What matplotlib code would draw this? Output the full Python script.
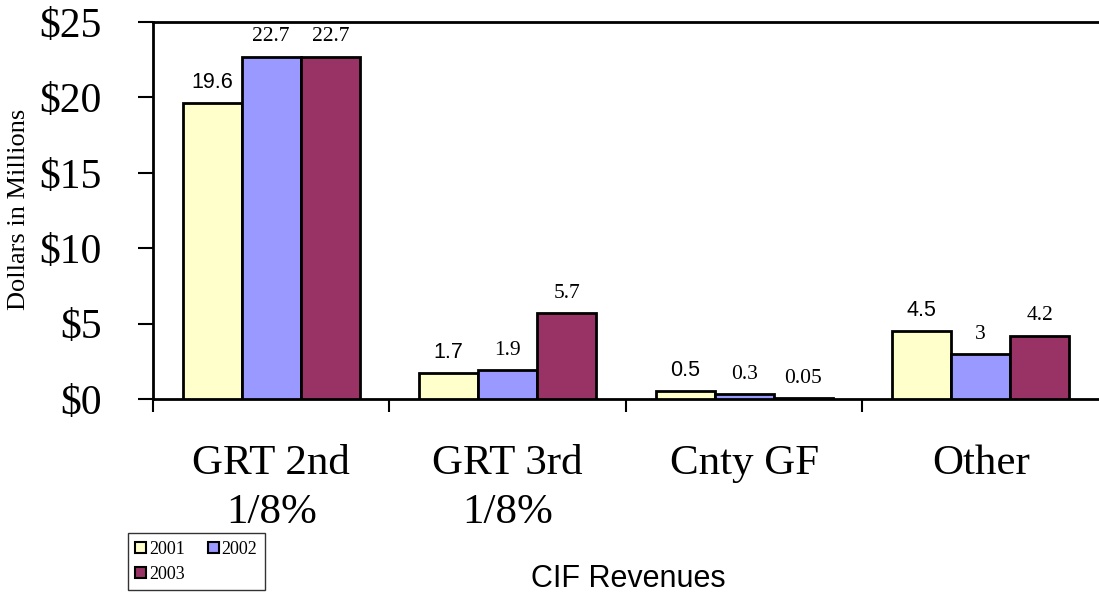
import numpy as np
import matplotlib.pyplot as plt
from matplotlib.patches import Patch

categories = ['GRT 2nd\n1/8%', 'GRT 3rd\n1/8%', 'Cnty GF', 'Other']
years = ['2001', '2002', '2003']
vals_2001 = [19.6, 1.7, 0.5, 4.5]
vals_2002 = [22.7, 1.9, 0.3, 3.0]
vals_2003 = [22.7, 5.7, 0.05, 4.2]
labels_2001 = ['19.6', '1.7', '0.5', '4.5']
labels_2002 = ['22.7', '1.9', '0.3', '3']
labels_2003 = ['22.7', '5.7', '0.05', '4.2']

colors = ['#FFFFCC', '#9999FF', '#993366']
serif = 'Liberation Serif'
sans = 'Liberation Sans'

fig = plt.figure(figsize=(10.99, 5.96), dpi=100)
ax = fig.add_axes([0.1392, 0.3305, 0.8608, 0.6326])

x = np.arange(len(categories)) + 0.5
w = 0.25
series = [(vals_2001, labels_2001, sans), (vals_2002, labels_2002, serif),
          (vals_2003, labels_2003, serif)]
for i, (vals, labs, fam) in enumerate(series):
    xs = x + (i - 1) * w
    ax.bar(xs, vals, width=w, color=colors[i], edgecolor='black', linewidth=2, zorder=3)
    for xx, v, t in zip(xs, vals, labs):
        ax.annotate(t, (xx, v), xytext=(0, 11), textcoords='offset points',
                    ha='center', va='baseline', fontsize=15.5, family=fam)

ax.set_xlim(0, 4)
ax.set_ylim(0, 25)
ax.set_yticks([0, 5, 10, 15, 20, 25])
ax.set_yticklabels(['$0', '$5', '$10', '$15', '$20', '$25'], family=serif, fontsize=30)
ax.tick_params(axis='y', direction='out', length=11, width=1.5, pad=26)

ax.set_xticks(x)
ax.set_xticklabels(categories, family=serif, fontsize=31, linespacing=1.35)
ax.tick_params(axis='x', which='major', length=0, pad=33)
ax.set_xticks([0, 1, 2, 3], minor=True)
ax.tick_params(axis='x', which='minor', direction='out', length=9, width=1.5)

ax.spines['right'].set_visible(False)
for s in ['left', 'bottom', 'top']:
    ax.spines[s].set_linewidth(2)

fig.text(0.0175, 0.648, 'Dollars in Millions', rotation=90, ha='center', va='center',
         family=serif, fontsize=19)
fig.text(0.5714, 0.0151, 'CIF Revenues', ha='center', va='baseline', family=sans, fontsize=22)

handles = [Patch(facecolor=c, edgecolor='black', linewidth=1.5) for c in colors]
order = [0, 2, 1]
leg = fig.legend([handles[k] for k in order], [years[k] for k in order], ncol=2,
                 loc='lower left', bbox_to_anchor=(0.1165, 0.0101), borderaxespad=0,
                 prop={'family': serif, 'size': 13}, frameon=True, fancybox=False,
                 handlelength=0.6, handleheight=0.6, handletextpad=0.15,
                 columnspacing=1.3, borderpad=0.4, labelspacing=0.45)
leg.get_frame().set_edgecolor('black')
leg.get_frame().set_linewidth(1)

fig.savefig('out.png', dpi=100)
